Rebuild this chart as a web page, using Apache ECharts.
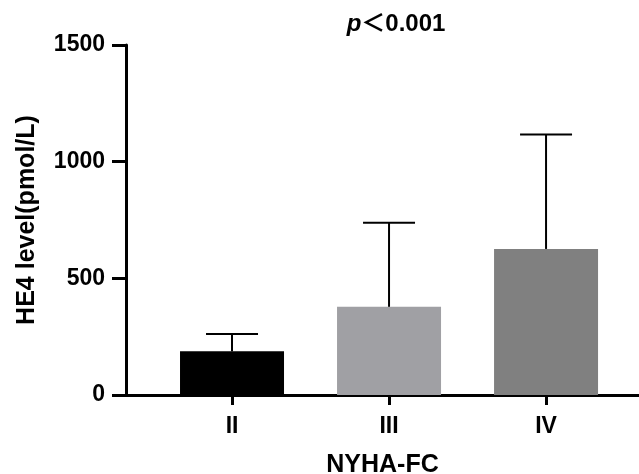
<!DOCTYPE html>
<html>
<head>
<meta charset="utf-8">
<script src="https://cdn.jsdelivr.net/npm/echarts@6/dist/echarts.min.js"></script>
<style>
  html, body { margin: 0; padding: 0; background: #fff; }
  #chart { width: 639px; height: 474px; }
</style>
</head>
<body>
<div id="chart"></div>
<script>
// 数据
const categories = ['II', 'III', 'IV']
const positions = [1, 2, 3]
const means = [187, 378, 626]
const upper = [261, 738, 1116]
const colors = ['#000000', '#a0a0a4', '#808080']
const yTicks = [0, 500, 1000, 1500]

const font = '"Liberation Sans", Arial, "Noto Sans CJK SC", sans-serif'

let chart = echarts.init(document.getElementById('chart'))

const barData = means.map((v, i) => ({
  value: [positions[i], v],
  itemStyle: { color: colors[i] }
}))
const errData = means.map((v, i) => [positions[i], v, upper[i]])

const option = {
  animation: false,
  title: {
    text: '{i|p}＜0.001',
    left: 391,
    top: 7,
    textAlign: 'center',
    textStyle: {
      fontFamily: font,
      fontSize: 24,
      fontWeight: 'bold',
      color: '#000',
      rich: {
        i: { fontFamily: font, fontSize: 24, fontWeight: 'bold', fontStyle: 'italic', color: '#000' }
      }
    }
  },
  grid: { left: 126, right: 0, top: 45, bottom: 79, containLabel: false, outerBoundsMode: 'none' },
  xAxis: {
    type: 'value',
    min: 0.3248,
    max: 3.592,
    name: 'NYHA-FC',
    nameLocation: 'middle',
    nameGap: 58,
    nameTextStyle: { fontFamily: font, fontSize: 25, fontWeight: 'bold', color: '#000' },
    splitLine: { show: false },
    axisLine: { show: true, onZero: false, lineStyle: { color: '#000', width: 3 } },
    axisTick: { show: true, customValues: positions, length: 10, lineStyle: { color: '#000', width: 3 } },
    axisLabel: {
      customValues: positions,
      margin: 20,
      fontFamily: font, fontSize: 23, fontWeight: 'bold', color: '#000',
      formatter: v => categories[positions.indexOf(Math.round(v))] || ''
    }
  },
  yAxis: {
    type: 'value',
    min: 0,
    max: 1500,
    interval: 500,
    name: 'HE4 level(pmol/L)',
    nameLocation: 'middle',
    nameGap: 86,
    nameTextStyle: { fontFamily: font, fontSize: 25, fontWeight: 'bold', color: '#000' },
    splitLine: { show: false },
    axisLine: { show: true, lineStyle: { color: '#000', width: 3 } },
    axisTick: { show: true, length: 14, lineStyle: { color: '#000', width: 3 } },
    axisLabel: {
      margin: 21,
      fontFamily: font, fontSize: 23, fontWeight: 'bold', color: '#000',
      formatter: v => yTicks.indexOf(v) >= 0 ? String(v) : ''
    }
  },
  series: [
    {
      type: 'bar',
      data: barData,
      barWidth: 104,
      z: 2
    },
    {
      type: 'custom',
      data: errData,
      z: 3,
      renderItem(params, api) {
        const x = api.value(0)
        const lo = api.coord([x, api.value(1)])
        const hi = api.coord([x, api.value(2)])
        const half = 26
        return {
          type: 'group',
          children: [
            { type: 'line', shape: { x1: lo[0], y1: lo[1], x2: hi[0], y2: hi[1] }, style: { stroke: '#000', lineWidth: 2 } },
            { type: 'line', shape: { x1: hi[0] - half, y1: hi[1], x2: hi[0] + half, y2: hi[1] }, style: { stroke: '#000', lineWidth: 2 } }
          ]
        }
      }
    }
  ]
}

chart.setOption(option)
</script>
</body>
</html>
